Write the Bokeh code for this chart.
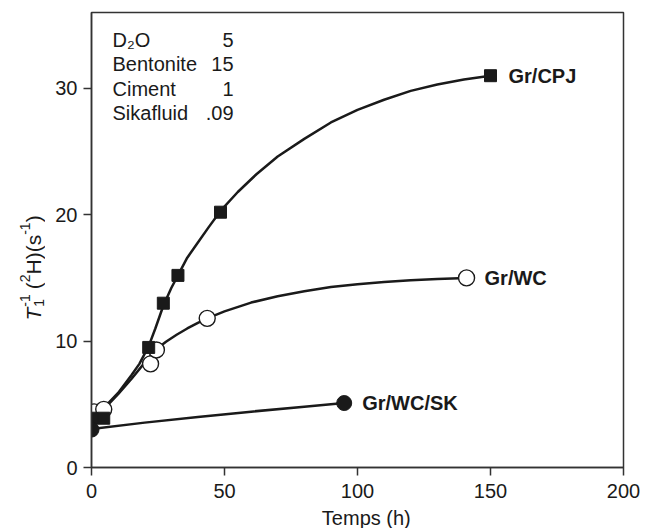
import math
from bokeh.plotting import figure
from bokeh.layouts import row, column
from bokeh.models import Range1d, FixedTicker, ColumnDataSource
from bokeh.core.properties import value
from bokeh.embed import file_html
from bokeh.resources import INLINE

# ---- data ----
cpj_x = [0, 4.6, 21.5, 27, 32.5, 48.5, 150]
cpj_y = [3.9, 3.9, 9.5, 13.0, 15.2, 20.2, 31.0]

wc_x = [1, 4.6, 22.2, 24.4, 43.5, 141]
wc_y = [4.4, 4.6, 8.2, 9.3, 11.8, 15.0]

sk_x = [0, 95]
sk_y = [3.0, 5.1]

# fitted curves as drawn in the picture
cpj_curve_x = [1, 5, 10, 15, 18, 21.5, 24, 27, 30, 32.5, 36, 40, 44, 48.5,
               55, 62, 70, 80, 90, 100, 110, 120, 130, 140, 150]
cpj_curve_y = [4.3, 4.8, 5.9, 7.3, 8.2, 9.6, 11.0, 12.8, 14.2, 15.2, 16.6, 17.8, 19.0, 20.3,
               21.8, 23.2, 24.6, 26.0, 27.3, 28.3, 29.1, 29.8, 30.3, 30.7, 31.0]

wc_curve_x = [1, 5, 10, 15, 20, 24, 28, 32, 36, 40, 43.5, 50, 60, 70, 80, 90,
              100, 110, 120, 130, 141]
wc_curve_y = [4.3, 4.7, 5.8, 7.0, 8.3, 9.3, 9.95, 10.5, 11.0, 11.45, 11.8, 12.35, 13.05,
              13.55, 13.95, 14.28, 14.5, 14.68, 14.82, 14.92, 15.0]

sk_curve_x = [0, 20, 40, 60, 80, 95]
sk_curve_y = [3.05, 3.55, 4.0, 4.42, 4.8, 5.1]

series_labels = ["Gr/CPJ", "Gr/WC", "Gr/WC/SK"]

legend_names = ["D\u2082O", "Bentonite", "Ciment", "Sikafluid"]
legend_values = ["5", "15", "1", ".09"]

x_ticks = [0, 50, 100, 150, 200]
y_ticks = [0, 10, 20, 30]
x_title = "Temps (h)"

FONT = "Liberation Sans"
INK = "#1a1a1a"
FS = "20px"

CANVAS_W, CANVAS_H = 649, 528
STRIP_W = 45            # left strip holding the rotated y title
BOTTOM_H = 22           # bottom strip holding the x title
X0, X1, Y0, Y1 = 0, 200, 0, 36
LEFT, RIGHT, TOP, BOTTOM = 91, 623, 12, 467
px_x = (RIGHT - LEFT) / (X1 - X0)
px_y = (BOTTOM - TOP) / (Y1 - Y0)


def dx(px):
    return X0 + (px - LEFT) / px_x


def dy(py):
    return Y0 + (BOTTOM - py) / px_y


def blank(w, h):
    f = figure(width=w, height=h, output_backend="svg", toolbar_location=None,
               x_range=Range1d(0, w), y_range=Range1d(0, h),
               x_axis_location=None, y_axis_location=None, min_border=0)
    f.outline_line_color = None
    f.grid.visible = False
    f.background_fill_color = "white"
    f.border_fill_color = "white"
    return f


# ---- main plot ----
main_w = CANVAS_W - STRIP_W
main_h = CANVAS_H - BOTTOM_H
p = figure(width=main_w, height=main_h, output_backend="svg", toolbar_location=None,
           x_range=Range1d(X0, X1), y_range=Range1d(Y0, Y1),
           min_border_left=LEFT - STRIP_W, min_border_right=CANVAS_W - RIGHT,
           min_border_top=TOP, min_border_bottom=main_h - BOTTOM)
p.background_fill_color = "white"
p.border_fill_color = "white"
p.outline_line_color = "#333333"
p.outline_line_width = 1.5
p.grid.visible = False

for ax in (p.xaxis[0], p.yaxis[0]):
    ax.axis_line_color = "#333333"
    ax.axis_line_width = 1.5
    ax.major_tick_line_color = "#333333"
    ax.major_tick_line_width = 1.5
    ax.major_tick_out = 8
    ax.major_tick_in = 0
    ax.minor_tick_line_color = None
    ax.major_label_text_font = FONT
    ax.major_label_text_font_size = FS
    ax.major_label_text_color = INK

p.xaxis.ticker = FixedTicker(ticks=x_ticks)
p.yaxis.ticker = FixedTicker(ticks=y_ticks)
p.xaxis.major_label_standoff = 8
p.yaxis.major_label_standoff = 6

# curves
p.line(cpj_curve_x, cpj_curve_y, line_color=INK, line_width=2.5, line_join="round")
p.line(wc_curve_x, wc_curve_y, line_color=INK, line_width=2.5, line_join="round")
p.line(sk_curve_x, sk_curve_y, line_color=INK, line_width=2.5, line_join="round")

# markers
p.scatter(wc_x, wc_y, marker="circle", size=16, fill_color="white",
          line_color=INK, line_width=1.4)
p.scatter(cpj_x, cpj_y, marker="square", size=12, fill_color=INK,
          line_color=INK, line_width=1)
p.scatter(sk_x, sk_y, marker="circle", size=15, fill_color=INK,
          line_color=INK, line_width=1)

# series labels at the last point of each series
lab_src = ColumnDataSource(dict(
    x=[cpj_x[-1], wc_x[-1], sk_x[-1]],
    y=[cpj_y[-1], wc_y[-1], sk_y[-1]],
    t=series_labels))
p.text(x="x", y="y", text="t", source=lab_src, x_offset=18,
       text_font=value(FONT), text_font_size=FS, text_font_style="bold",
       text_color=INK, text_align="left", text_baseline="middle")

# composition box (top-left)
row_px = [39, 63.5, 88, 112.5]
rows_y = [dy(v) for v in row_px]
p.text(x=[dx(112)] * len(legend_names), y=rows_y, text=legend_names,
       text_font=value(FONT), text_font_size=FS, text_color=INK,
       text_align="left", text_baseline="middle")
p.text(x=[dx(233)] * len(legend_values), y=rows_y, text=legend_values,
       text_font=value(FONT), text_font_size=FS, text_color=INK,
       text_align="right", text_baseline="middle")

# ---- left strip: rotated y title  T_1^-1 (^2H)(s^-1) ----
ys = blank(STRIP_W, CANVAS_H)
W = {"T": 0.611, "1": 0.556, "2": 0.556, "-": 0.333, " ": 0.278, "(": 0.333,
     ")": 0.333, "H": 0.722, "s": 0.5}


def tw(s, size):
    return sum(W[c] for c in s) * size


MAIN, SCRIPT = 21, 14
base_x = 33          # canvas x of the rotated baseline
pos = 320            # canvas y (from top) where the title starts
pieces = []
pieces.append(("T", MAIN, 0, "italic", pos)); pos -= tw("T", MAIN) + 1
pieces.append(("1", SCRIPT, 5, "normal", pos))
pieces.append(("-1", SCRIPT, -9, "normal", pos)); pos -= tw("-1", SCRIPT) + 5
pieces.append(("(", MAIN, 0, "normal", pos)); pos -= tw("(", MAIN)
pieces.append(("2", SCRIPT, -9, "normal", pos)); pos -= tw("2", SCRIPT)
pieces.append(("H)(s", MAIN, 0, "normal", pos)); pos -= tw("H)(s", MAIN)
pieces.append(("-1", SCRIPT, -9, "normal", pos)); pos -= tw("-1", SCRIPT)
pieces.append((")", MAIN, 0, "normal", pos))
for txt, size, shift, style, py in pieces:
    ys.text(x=[base_x + shift], y=[CANVAS_H - py], text=[txt], angle=math.pi / 2,
            text_font=value(FONT), text_font_size=f"{size}px", text_font_style=style,
            text_color=INK, text_align="left", text_baseline="alphabetic")

# ---- bottom strip: x title ----
xs = blank(main_w, BOTTOM_H)
xs.text(x=[(LEFT + RIGHT) / 2 - STRIP_W], y=[CANVAS_H - 517.5], text=[x_title],
        text_font=value(FONT), text_font_size=FS, text_color=INK,
        text_align="center", text_baseline="middle")

layout = row(ys, column(p, xs, spacing=0), spacing=0)
open("out.html", "w").write(file_html(layout, INLINE))
